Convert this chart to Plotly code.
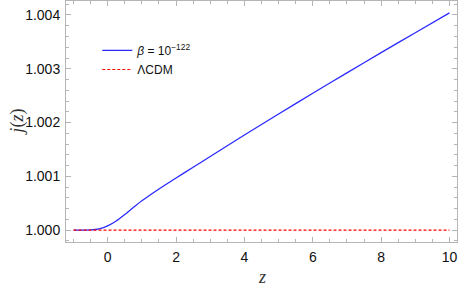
import plotly.graph_objects as go

# data
z_beta = [-1, -0.5, -0.25, 0, 0.25, 0.5, 0.75, 1, 1.5, 2, 2.5, 3, 4, 5, 6, 7, 8, 9, 10]
j_beta = [1.0, 1.000005, 1.000025, 1.00008, 1.00017, 1.00029, 1.00042, 1.000545,
          1.000765, 1.00097, 1.00117, 1.00137, 1.00177, 1.00216, 1.002545, 1.002925,
          1.00330, 1.00367, 1.00404]
z_lcdm = [-1, 10]
j_lcdm = [1.0, 1.0]

x_ticks = [0, 2, 4, 6, 8, 10]
y_ticks = [1.000, 1.001, 1.002, 1.003, 1.004]

frame = "#b5b5b5"
tickfont = dict(family="Liberation Sans, Arial, sans-serif", size=14, color="#111")
titlefont = dict(family="Liberation Serif, serif", size=18, color="#333")

fig = go.Figure()
fig.add_trace(go.Scatter(x=z_beta, y=j_beta, mode="lines",
                         name="<i>β</i> = 10<sup>−122</sup>",
                         line=dict(color="#2a2aff", width=1.3, shape="spline", smoothing=0.6)))
fig.add_trace(go.Scatter(x=z_lcdm, y=j_lcdm, mode="lines", name="ΛCDM",
                         line=dict(color="#ff0000", width=1.1, dash="3px,2px")))

axis_common = dict(showline=True, mirror="allticks", linecolor=frame, linewidth=1,
                   ticks="inside", ticklen=5, tickcolor=frame, tickwidth=1,
                   showgrid=False, zeroline=False, tickfont=tickfont,
                   ticklabelstandoff=2, automargin=False)

fig.update_xaxes(range=[-1.22, 10.22], tickvals=x_ticks,
                 minor=dict(ticks="inside", ticklen=3, dtick=0.5, tick0=0, tickcolor=frame),
                 **axis_common)
fig.update_yaxes(range=[0.99978, 1.00426], tickvals=y_ticks, tickformat=".3f",
                 minor=dict(ticks="inside", ticklen=3, dtick=0.0002, tick0=1.0, tickcolor=frame),
                 **axis_common)

fig.add_annotation(text="<i>z</i>", xref="paper", yref="paper", x=0.5, y=-0.145,
                   xanchor="center", yanchor="middle", showarrow=False, font=titlefont)
fig.add_annotation(text="<i>j</i>(<i>z</i>)", xref="paper", yref="paper", x=-0.125, y=0.5,
                   xanchor="center", yanchor="middle", textangle=-90, showarrow=False,
                   font=titlefont)

fig.update_layout(
    width=458, height=288,
    margin=dict(l=66, r=1, t=1, b=46),
    plot_bgcolor="white", paper_bgcolor="white",
    showlegend=True,
    legend=dict(x=0.08, y=0.855, xanchor="left", yanchor="top",
                bgcolor="rgba(0,0,0,0)", borderwidth=0,
                font=dict(family="Liberation Sans, Arial, sans-serif", size=12, color="#111")),
)

fig.write_html("out.html", config={"displayModeBar": False},
               post_script="document.body.style.margin='0';")
